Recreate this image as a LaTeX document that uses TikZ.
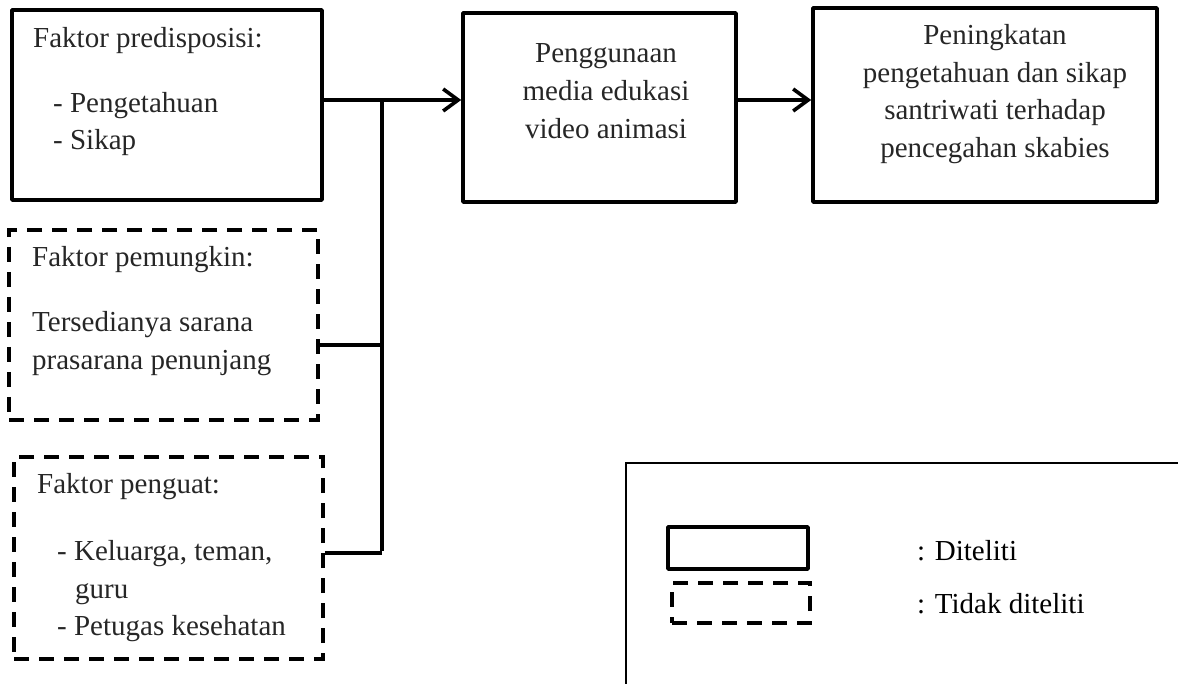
\documentclass[tikz,border=0pt]{standalone}
\usepackage{fontspec}
\setmainfont{Liberation Serif}
\usetikzlibrary{arrows.meta}
\begin{document}
\begin{tikzpicture}[x=1pt,y=-1pt,
  solidbox/.style={draw,line width=3.6pt,line join=round,inner sep=0pt},
  dashbox/.style={draw,line width=3.6pt,dash pattern=on 15pt off 10pt,inner sep=0pt},
  conn/.style={line width=3.6pt},
  arr/.style={line width=3.6pt,-{Straight Barb[length=15pt,width=22pt,line width=3.6pt]}},
  lt/.style={anchor=base west,inner sep=0pt,font=\fontsize{29}{38}\selectfont,text=black!85},
  ct/.style={anchor=base,inner sep=0pt,font=\fontsize{29}{38}\selectfont,text=black!85}]
\useasboundingbox (0,0) rectangle (1178,684);
% boxes
\node[solidbox,minimum width=310pt,minimum height=190pt] (b1) at (167,105) {};
\node[solidbox,minimum width=273pt,minimum height=189pt] (b2) at (599.5,107.5) {};
\node[solidbox,minimum width=344pt,minimum height=194pt] (b3) at (985,105) {};
\node[dashbox,minimum width=309pt,minimum height=190pt] (d1) at (163.5,325) {};
\node[dashbox,minimum width=309pt,minimum height=202pt] (d2) at (168.5,558) {};
% texts box 1
\node[lt] (t11) at (33,48) {Faktor predisposisi:};
\node[lt] (t12) at (53,113) {- Pengetahuan};
\node[lt] (t13) at (53,150) {- Sikap};
% box 2
\node[ct] (t21) at (606,63) {Penggunaan};
\node[ct] (t22) at (606,101) {media edukasi};
\node[ct] (t23) at (606,139) {video animasi};
% box 3
\node[ct] (t31) at (995,45) {Peningkatan};
\node[ct] (t32) at (995,83) {pengetahuan dan sikap};
\node[ct] (t33) at (995,120) {santriwati terhadap};
\node[ct] (t34) at (995,158) {pencegahan skabies};
% dashed box 1
\node[lt] (t41) at (32,267) {Faktor pemungkin:};
\node[lt] (t42) at (32,332) {Tersedianya sarana};
\node[lt] (t43) at (32,370) {prasarana penunjang};
% dashed box 2
\node[lt] (t51) at (37,493) {Faktor penguat:};
\node[lt] (t52) at (57,560) {- Keluarga, teman,};
\node[lt] (t53) at (75,598) {guru};
\node[lt] (t54) at (57,635) {- Petugas kesehatan};
% connectors
\coordinate (j1) at (382,100);
\coordinate (j2) at (382,345);
\coordinate (j3) at (382,553);
\draw[arr] (b1.east |- j1) -- (b2.west |- j1);
\draw[arr] (b2.east |- j1) -- (b3.west |- j1);
\draw[conn] (j1) -- ([yshift=1.8pt]j3);
\draw[conn] (d1.east |- j2) -- (j2);
\draw[conn] (d2.east |- j3) -- (j3);
% legend
\draw[line width=1.2pt] (1190,700) -- (626,700) -- (626,463) -- (1190,463);
\node[solidbox,minimum width=140pt,minimum height=42pt] (ls) at (738,548) {};
\node[dashbox,minimum width=138pt,minimum height=40pt] (ld) at (741,603) {};
\node[lt,text=black] (lt1) at (917,560) {: Diteliti};
\node[lt,text=black] (lt2) at (917,613) {: Tidak diteliti};
\end{tikzpicture}
\end{document}
